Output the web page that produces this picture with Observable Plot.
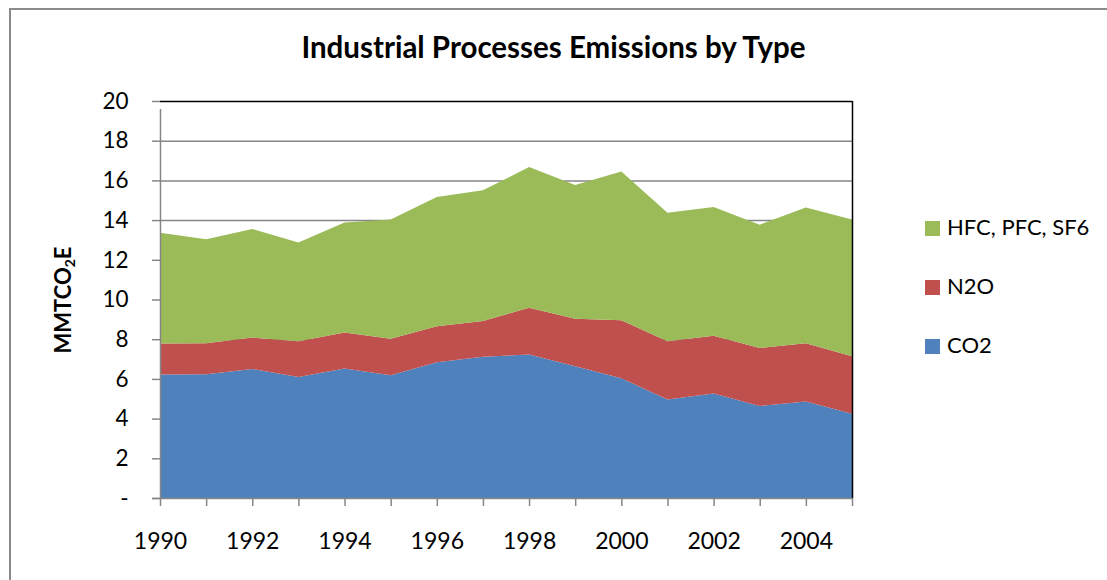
<!DOCTYPE html>
<html>
<head>
<meta charset="utf-8">
<script src="https://cdn.jsdelivr.net/npm/d3@7"></script>
<script src="https://cdn.jsdelivr.net/npm/@observablehq/plot@0.6"></script>
<style>
  html, body { margin: 0; padding: 0; background: #fff; }
  body { width: 1107px; height: 580px; position: relative; overflow: hidden; font-family: Lato, "Open Sans", sans-serif; }
  #frame { position: absolute; left: 9px; top: 8px; width: 1200px; height: 700px; border: 2px solid #8a8a8a; box-sizing: border-box; }
  #title { position: absolute; left: 0; width: 1107px; top: 29px; text-align: center; font-weight: bold; font-size: 29.5px; color: #000; }
  #ylabel { position: absolute; left: 63px; top: 300px; transform: translate(-50%, -50%) rotate(-90deg); font-weight: bold; font-size: 22px; white-space: nowrap; color: #000; }
  #ylabel sub { font-size: 14px; vertical-align: -4px; }
  #chart { position: absolute; left: 0; top: 0; }
  .leg { position: absolute; left: 925px; font-size: 22px; color: #000; white-space: nowrap; }
  .leg span.sw { display: inline-block; width: 15px; height: 15px; margin-right: 7px; vertical-align: -1px; }
</style>
</head>
<body>
<div id="frame"></div>
<div id="chart"></div>
<div id="title">Industrial Processes Emissions by Type</div>
<div id="ylabel">MMTCO<sub>2</sub>E</div>
<div id="legend"></div>
<script>
const years = [1990,1991,1992,1993,1994,1995,1996,1997,1998,1999,2000,2001,2002,2003,2004,2005];
const co2 = [6.22,6.23,6.50,6.10,6.52,6.18,6.84,7.11,7.23,6.64,6.03,4.96,5.26,4.64,4.86,4.24];
const n2o = [1.56,1.57,1.58,1.80,1.82,1.84,1.81,1.81,2.35,2.39,2.93,2.94,2.92,2.92,2.94,2.90];
const hfc = [5.58,5.24,5.47,4.97,5.54,6.01,6.51,6.58,7.09,6.74,7.49,6.47,6.48,6.21,6.84,6.89];
const seriesNames = ["CO2", "N2O", "HFC, PFC, SF6"];
const seriesColors = ["#4F81BD", "#C0504D", "#9BBB59"];
const yTicks = [0,2,4,6,8,10,12,14,16,18,20];
const xTicks = years;

const seriesValues = [co2, n2o, hfc];
const data = [];
seriesNames.forEach((name, i) => {
  years.forEach((yr, j) => data.push({year: yr, type: name, value: seriesValues[i][j]}));
});

const grey = "#868686";
const plot = Plot.plot({
  width: 1107,
  height: 580,
  marginLeft: 160,
  marginRight: 255,
  marginTop: 101,
  marginBottom: 82,
  style: {background: "transparent", fontFamily: "Lato, 'Open Sans', sans-serif", fontSize: "22px", color: "#000", overflow: "visible"},
  x: {domain: [1990, 2005]},
  y: {domain: [0, 20]},
  color: {domain: seriesNames, range: seriesColors},
  marks: [
    Plot.ruleY(yTicks.filter(d => d > 0 && d < 20), {stroke: grey, strokeWidth: 1.5}),
    Plot.areaY(data, {x: "year", y: "value", z: "type", fill: "type", order: null, curve: "linear"}),
    Plot.ruleY([20], {stroke: "#000", strokeWidth: 1.5}),
    Plot.ruleX([2005], {stroke: "#000", strokeWidth: 1.5}),
    Plot.ruleX([1990], {y1: 0, y2: 20, stroke: grey, strokeWidth: 1.5, insetBottom: -8}),
    Plot.ruleY([0], {stroke: grey, strokeWidth: 1.5, insetLeft: -8}),
    Plot.axisY(yTicks, {anchor: "left", tickSize: 8, tickPadding: 24, stroke: grey, strokeWidth: 1.5, label: null,
      tickFormat: d => d === 0 ? "-" : String(d), fill: "#000", fontSize: 22.5}),
    Plot.axisX(xTicks, {anchor: "bottom", tickSize: 8, tickPadding: 26, stroke: grey, strokeWidth: 1.5, label: null,
      tickFormat: d => d % 2 === 0 ? String(d) : "", fill: "#000", fontSize: 23})
  ]
});
document.getElementById("chart").appendChild(plot);

const legendRows = [
  {name: "HFC, PFC, SF6", color: seriesColors[2], top: 213},
  {name: "N2O", color: seriesColors[1], top: 272},
  {name: "CO2", color: seriesColors[0], top: 331}
];
const leg = document.getElementById("legend");
legendRows.forEach(r => {
  const div = document.createElement("div");
  div.className = "leg";
  div.style.top = r.top + "px";
  div.innerHTML = `<span class="sw" style="background:${r.color}"></span>${r.name}`;
  leg.appendChild(div);
});
</script>
</body>
</html>
